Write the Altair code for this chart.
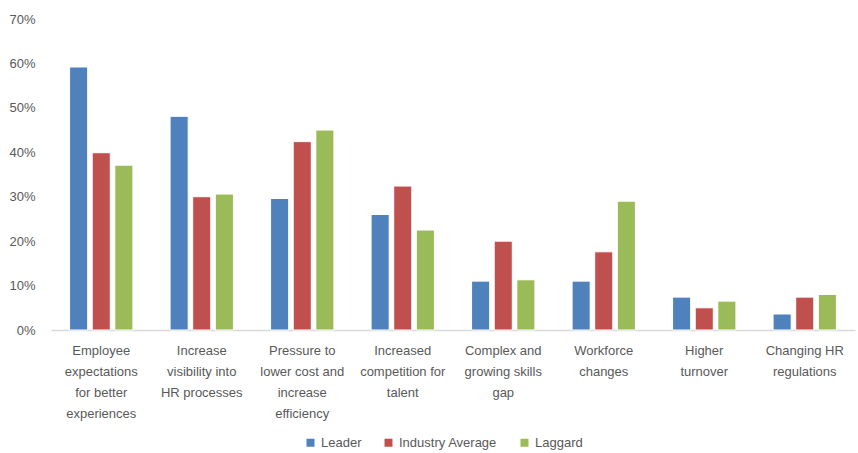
import altair as alt
import pandas as pd

# Drivers of HR investment, share of respondents by maturity class
categories = [
    "Employee|expectations|for better|experiences",
    "Increase|visibility into|HR processes",
    "Pressure to|lower cost and|increase|efficiency",
    "Increased|competition for|talent",
    "Complex and|growing skills|gap",
    "Workforce|changes",
    "Higher|turnover",
    "Changing HR|regulations",
]
series = ["Leader", "Industry Average", "Laggard"]
leader = [0.592, 0.481, 0.296, 0.260, 0.110, 0.110, 0.074, 0.036]
industry_avg = [0.399, 0.300, 0.424, 0.324, 0.200, 0.176, 0.050, 0.074]
laggard = [0.371, 0.306, 0.450, 0.225, 0.113, 0.290, 0.065, 0.080]
colors = ["#4F81BD", "#C0504D", "#9BBB59"]
y_ticks = [0, 0.1, 0.2, 0.3, 0.4, 0.5, 0.6, 0.7]

rows = []
for name, vals in zip(series, [leader, industry_avg, laggard]):
    for cat, v in zip(categories, vals):
        rows.append({"category": cat, "series": name, "value": v})
df = pd.DataFrame(rows)

font = "Liberation Sans"
text_color = "#595959"

chart = (
    alt.Chart(df)
    .mark_bar(stroke="white", strokeWidth=1)
    .encode(
        x=alt.X(
            "category:N",
            sort=categories,
            scale=alt.Scale(paddingInner=0.37, paddingOuter=0.185),
            axis=alt.Axis(
                title=None,
                labelAngle=0,
                labelExpr="split(datum.label, '|')",
                ticks=False,
                domainColor="#d9d9d9",
                domainWidth=1.5,
                labelPadding=14,
                labelLineHeight=21,
                labelBaseline="top",
                labelFont=font,
                labelFontSize=13,
                labelColor=text_color,
                labelLimit=200,
            ),
        ),
        xOffset=alt.XOffset("series:N", sort=series, scale=alt.Scale(paddingInner=0.2)),
        y=alt.Y(
            "value:Q",
            scale=alt.Scale(domain=[0, 0.7]),
            axis=alt.Axis(
                title=None,
                format=".0%",
                values=y_ticks,
                grid=False,
                domain=False,
                ticks=False,
                labelPadding=16,
                labelFont=font,
                labelFontSize=13,
                labelColor=text_color,
            ),
        ),
        color=alt.Color(
            "series:N",
            sort=series,
            scale=alt.Scale(domain=series, range=colors),
            legend=alt.Legend(
                title=None,
                orient="none",
                legendX=253,
                legendY=417,
                direction="horizontal",
                symbolType="square",
                symbolSize=64,
                symbolStrokeWidth=0,
                labelFont=font,
                labelFontSize=13,
                labelColor=text_color,
                columnPadding=20,
            ),
        ),
    )
    .properties(
        width=804,
        height=311,
        padding={"left": 51, "top": 19, "right": 3, "bottom": 123},
        autosize=alt.AutoSizeParams(type="none"),
    )
    .configure_view(stroke=None)
)

chart.save("out.html", embed_options={"renderer": "svg", "actions": False})
